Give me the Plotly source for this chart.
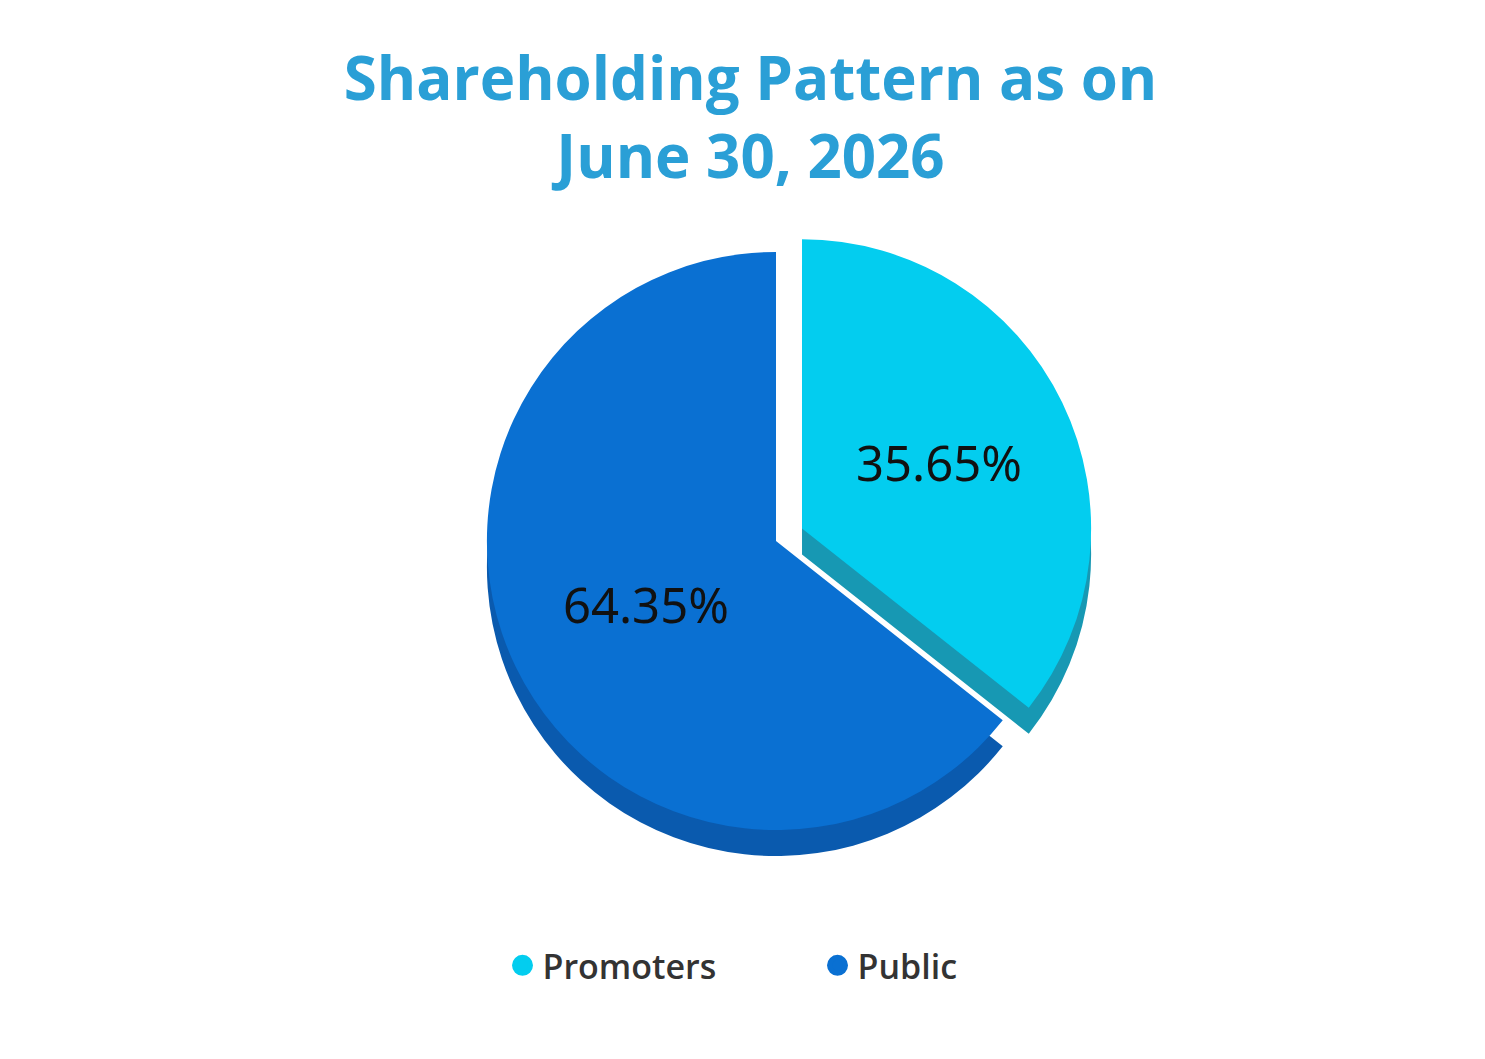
import plotly.graph_objects as go

labels = ["Promoters", "Public"]
values = [35.65, 64.35]
text_labels = ["35.65%", "64.35%"]
top_colors = ["#03CDEF", "#0A70D2"]
side_colors = ["#1798B3", "#0A5AAE"]
pulls = [0.1, 0.0]

W, H = 1485, 1059
cx, cy = 768, 533
half = 318
depth = 26

def dom(cx, cy, half):
    return dict(x=[(cx - half) / W, (cx + half) / W],
                y=[1 - (cy + half) / H, 1 - (cy - half) / H])

fig = go.Figure()
# side (depth) layer
fig.add_trace(go.Pie(labels=labels, values=values, sort=False, direction="clockwise",
                     rotation=0, pull=pulls, marker=dict(colors=side_colors, line=dict(width=0)),
                     textinfo="none", hoverinfo="skip", showlegend=False,
                     domain=dom(cx, cy + depth, half)))
# top layer
fig.add_trace(go.Pie(labels=labels, values=values, sort=False, direction="clockwise",
                     rotation=0, pull=pulls, marker=dict(colors=top_colors, line=dict(width=0)),
                     text=text_labels, textinfo="text", textposition="inside",
                     insidetextorientation="horizontal",
                     textfont=dict(family="Noto Sans", size=49, color="#111111"),
                     showlegend=False, domain=dom(cx, cy, half)))
# legend entries
for lab, col in zip(labels, top_colors):
    fig.add_trace(go.Scatter(x=[None], y=[None], mode="markers", name=lab,
                             marker=dict(symbol="circle", size=34, color=col,
                                         line=dict(width=5, color=col))))

fig.update_layout(
    width=W, height=H,
    margin=dict(l=0, r=0, t=0, b=0),
    paper_bgcolor="white", plot_bgcolor="white",
    title=dict(text="Shareholding Pattern as on<br>June 30, 2026",
               x=0.5, xanchor="center", y=0.913, yanchor="top",
               font=dict(family="Open Sans", size=60, color="#2A9FD6", weight=700)),
    xaxis=dict(visible=False), yaxis=dict(visible=False),
    legend=dict(orientation="h", x=0.333, xanchor="left", y=0.0956, yanchor="middle",
                font=dict(family="Open Sans", size=34, color="#333333", weight=600),
                itemsizing="trace", entrywidth=270, bgcolor="rgba(0,0,0,0)"),
)

fig.write_html("out.html")
